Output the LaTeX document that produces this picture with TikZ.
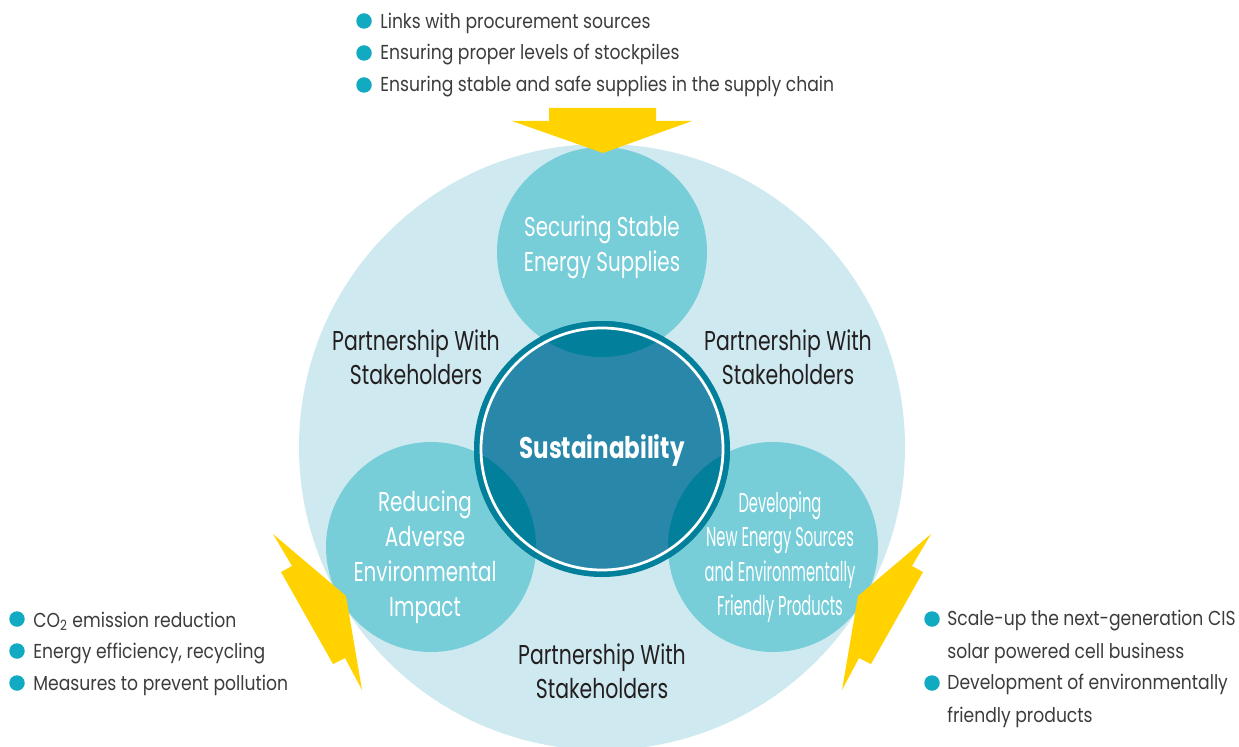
\documentclass[tikz,border=0pt]{standalone}
\usepackage{fontspec}
\setmainfont{Poppins}
\newfontfamily\listfont[FakeStretch=0.85]{Poppins}
\newfontfamily\labelfont[FakeStretch=0.75]{Poppins}
\newfontfamily\pillarfont[FakeStretch=0.73]{Poppins}
\newfontfamily\condfont[FakeStretch=0.54]{Poppins}
\newfontfamily\corefont[FakeStretch=0.77]{Poppins Bold}
\usetikzlibrary{positioning}

\definecolor{paleteal}{HTML}{CEE9EF}
\definecolor{midteal}{HTML}{77CED9}
\definecolor{deepteal}{HTML}{017F9B}
\definecolor{coreblue}{HTML}{2987A9}
\definecolor{boltyellow}{HTML}{FFD200}
\definecolor{dotteal}{HTML}{12AAC0}
\definecolor{greytext}{HTML}{3C3C3C}
\definecolor{darktext}{HTML}{231F20}

\begin{document}
\begin{tikzpicture}[x=0.2mm,y=-0.2mm,
    bullet/.style={circle,fill=dotteal,inner sep=0pt,minimum size=3.1mm},
    item/.style={anchor=west,inner sep=0pt,text=greytext,align=left,
        font=\listfont\fontsize{11.5}{18.6}\selectfont},
    partner/.style={align=center,text=darktext,
        font=\labelfont\fontsize{15.5}{19.3}\selectfont},
    pillar/.style={align=center,text=white,
        font=\pillarfont\fontsize{15.5}{19.8}\selectfont}]
    \useasboundingbox (0,0) rectangle (1239,746);

    % Big circle and the three pillars
    \fill[paleteal] (602,447) circle[radius=303];
    \fill[midteal] (602,252) circle[radius=105];
    \fill[midteal] (431,547) circle[radius=105];
    \fill[midteal] (773,547) circle[radius=105];

    % Core circle
    \fill[deepteal] (602,449) circle[radius=128];
    \fill[coreblue] (602,449) circle[radius=120];
    \begin{scope}
        \clip (602,449) circle[radius=128];
        \fill[deepteal] (602,252) circle[radius=105];
        \fill[deepteal] (431,547) circle[radius=105];
        \fill[deepteal] (773,547) circle[radius=105];
    \end{scope}
    \draw[white,line width=0.55mm] (602,449) circle[radius=121];

    % Yellow arrow and bolts
    \fill[boltyellow] (549,108) -- (656,108) -- (656,121) -- (692,121)
        -- (603,153) -- (512,121) -- (549,121) -- cycle;
    \fill[boltyellow] (273,534) -- (346,596) -- (362,690) -- (345,658)
        -- (333,664) -- (281,572) -- (292,566) -- cycle;
    \fill[boltyellow] (931,534) -- (858,596) -- (842,690) -- (859,658)
        -- (871,664) -- (923,572) -- (912,566) -- cycle;

    % Texts in the circles
    \node[font=\corefont\fontsize{17}{20}\selectfont,text=white] (core) at (602,450) {Sustainability};
    \node[pillar] (supply) at (602,247) {Securing Stable\\Energy Supplies};
    \node[pillar] (reduce) at (425,557) {Reducing\\Adverse\\Environmental\\Impact};
    \node[pillar,font=\condfont\fontsize{15.5}{19.6}\selectfont] (develop) at (780,557)
        {Developing\\New Energy Sources\\and Environmentally\\Friendly Products};

    % Partnership labels
    \node[partner] (partL) at (416,357) {Partnership With\\Stakeholders};
    \node[partner] (partR) at (788,357) {Partnership With\\Stakeholders};
    \node[partner] (partB) at (602,671) {Partnership With\\Stakeholders};

    % Top list
    \node[bullet] (t1) at (364,21) {};
    \node[bullet] (t2) at (364,53) {};
    \node[bullet] (t3) at (364,85) {};
    \node[item] at (380,23) {Links with procurement sources};
    \node[item] at (380,55) {Ensuring proper levels of stockpiles};
    \node[item] at (380,87) {Ensuring stable and safe supplies in the supply chain};

    % Left list
    \node[bullet] (l1) at (17,619) {};
    \node[bullet] (l2) at (17,651) {};
    \node[bullet] (l3) at (17,683) {};
    \node[item] at (33,621) {CO\textsubscript{2} emission reduction};
    \node[item] at (33,653) {Energy efficiency, recycling};
    \node[item] at (33,685) {Measures to prevent pollution};

    % Right list
    \node[bullet] (r1) at (932,619) {};
    \node[bullet] (r2) at (932,683) {};
    \node[item] at (947,637) {Scale-up the next-generation CIS\\solar powered cell business};
    \node[item] at (947,701) {Development of environmentally\\friendly products};
\end{tikzpicture}
\end{document}
